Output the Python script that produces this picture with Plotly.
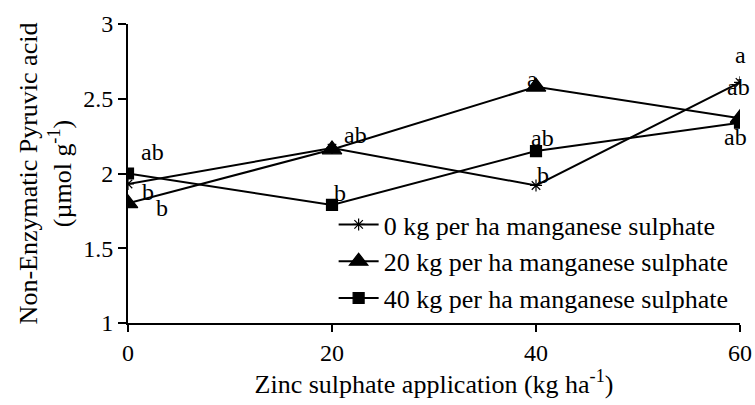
import plotly.graph_objects as go

zinc = [0, 20, 40, 60]
series_names = ["0 kg per ha manganese sulphate",
                "20 kg per ha manganese sulphate",
                "40 kg per ha manganese sulphate"]
mn0 = [1.93, 2.17, 1.92, 2.61]
mn20 = [1.80, 2.16, 2.58, 2.37]
mn40 = [2.00, 1.79, 2.15, 2.34]
labels0 = ["b", "", "b", "a"]
labels20 = ["b", "ab", "a", "ab"]
labels40 = ["ab", "b", "ab", "ab"]

FONT = "Liberation Serif"

fig = go.Figure()
symbols = ["asterisk-open", "triangle-up", "square"]
sizes = [10, 17, 11]
for name, vals, sym, sz in zip(series_names, [mn0, mn20, mn40], symbols, sizes):
    fig.add_trace(go.Scatter(
        x=zinc, y=vals, name=name, mode="lines+markers",
        line=dict(color="black", width=2),
        marker=dict(symbol=sym, size=sz, color="black",
                    line=dict(color="black", width=1.2)),
    ))

# letter annotation offsets (xshift, yshift) in px
offsets0 = [(20, -8), (0, 0), (7, 10), (0, 27)]
offsets20 = [(34, -5), (23, 15), (-4, 8), (-2, 31)]
offsets40 = [(24, 22), (8, 12), (6, 13), (-5, -14)]
for vals, labs, offs in [(mn0, labels0, offsets0), (mn20, labels20, offsets20), (mn40, labels40, offsets40)]:
    for xv, yv, t, (dx, dy) in zip(zinc, vals, labs, offs):
        if not t:
            continue
        fig.add_annotation(x=xv, y=yv, text=t, showarrow=False,
                           xshift=dx, yshift=dy,
                           font=dict(family=FONT, size=24, color="black"))

fig.update_layout(
    width=755, height=405,
    margin=dict(l=128, r=15, t=24, b=82),
    paper_bgcolor="white", plot_bgcolor="white",
    font=dict(family=FONT, size=24, color="black"),
    showlegend=True,
    legend=dict(x=0.336, y=0.408, xanchor="left", yanchor="top",
                bgcolor="rgba(0,0,0,0)", font=dict(family=FONT, size=26),
                itemwidth=40, tracegroupgap=0),
)
fig.update_xaxes(
    range=[0, 60], tickvals=zinc, showgrid=False, zeroline=False, automargin=False,
    showline=True, linecolor="black", linewidth=2,
    ticks="outside", ticklen=7, tickwidth=2, tickcolor="black",
    title=dict(text="Zinc sulphate application (kg ha<sup>-1</sup>)",
               font=dict(family=FONT, size=26), standoff=6),
    tickfont=dict(family=FONT, size=24),
)
fig.update_yaxes(
    range=[1, 3], tickvals=[1, 1.5, 2, 2.5, 3], ticktext=["1", "1.5", "2", "2.5", "3"],
    showgrid=False, zeroline=False, automargin=False,
    showline=True, linecolor="black", linewidth=2,
    ticks="outside", ticklen=8, tickwidth=2, tickcolor="black",
    title=dict(text="Non-Enzymatic Pyruvic acid<br>(µmol g<sup>-1</sup>)",
               font=dict(family=FONT, size=26), standoff=4),
    tickfont=dict(family=FONT, size=24),
)

fig.write_html("out.html", config={"displayModeBar": False})

# remove default page margin so the figure sits at the window's top-left
with open("out.html", "r", encoding="utf-8") as f:
    html = f.read()
html = html.replace("<head>", "<head><style>html,body{margin:0;padding:0;overflow:hidden;}</style>", 1)
with open("out.html", "w", encoding="utf-8") as f:
    f.write(html)
